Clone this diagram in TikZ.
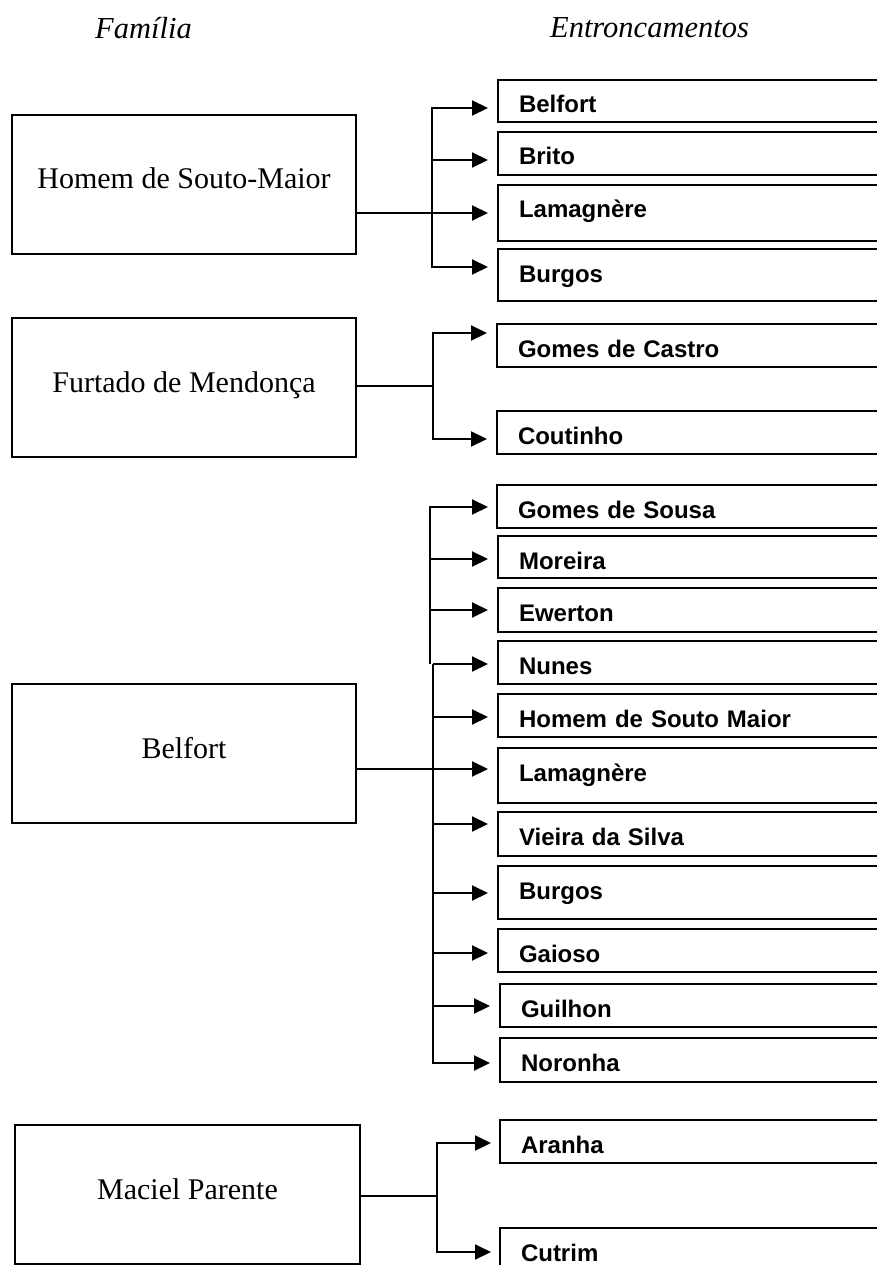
\documentclass[tikz,border=0pt]{standalone}
\usepackage{fontspec}
\setmainfont{Liberation Serif}
\setsansfont{Liberation Sans}
\usepackage{tikz}
\usetikzlibrary{arrows.meta}
\usetikzlibrary{positioning}

\begin{document}
\begin{tikzpicture}[
    x=1pt,
    y=-1pt,
    family/.style={%
      draw,
      rectangle,
      line width=2.3pt,
      outer sep=0pt,
      anchor=north west,
      minimum width=344pt,
      inner ysep=0pt,
      text height=74pt,
      text depth=65pt,
      font=\fontsize{30}{36}\selectfont,
    },
    branch/.style={%
      draw,
      rectangle,
      line width=2.3pt,
      outer sep=0pt,
      anchor=north west,
      inner xsep=21pt,
      inner ysep=0pt,
      text width=380pt,
      align=left,
      text height=33pt,
      text depth=#1,
      font=\sffamily\bfseries\fontsize{24}{29}\selectfont,
    },
    branch/.default=10pt,
    heading/.style={font=\itshape\fontsize{30.5}{36}\selectfont},
    link/.style={line width=2pt},
    feed/.style={line width=2pt,-{Triangle[length=16pt,width=15pt]}},
  ]

    \useasboundingbox (0,0) rectangle (877,1265);
    \clip (0,0) rectangle (877,1265);

    \node [heading] (fam) at (143.5,28) {Família};
    \node [heading] (ent) at (649.5,28) {Entroncamentos};

    \node [family] (hsm) at (12,115) {Homem de Souto-Maior};
    \node [family] (fm) at (12,318) {Furtado de Mendonça};
    \node [family] (bel) at (12,684) {Belfort};
    \node [family,minimum width=345pt] (mp) at (15,1125) {Maciel Parente};

    \node [branch=9pt] (e1) at (498,80) {Belfort};
    \node [branch] (e2) at (498,132) {Brito};
    \node [branch=23pt] (e3) at (498,185) {Lamagnère};
    \node [branch=19pt] (e4) at (498,249) {Burgos};

    \node [branch] (f1) at (497,324) {Gomes de Castro};
    \node [branch] (f2) at (497,411) {Coutinho};

    \node [branch] (b1) at (497,485) {Gomes de Sousa};
    \node [branch=9pt] (b2) at (498,536) {Moreira};
    \node [branch=11pt] (b3) at (498,588) {Ewerton};
    \node [branch] (b4) at (498,641) {Nunes};
    \node [branch] (b5) at (498,694) {Homem de Souto Maior};
    \node [branch=22pt] (b6) at (498,748) {Lamagnère};
    \node [branch=11pt] (b7) at (498,812) {Vieira da Silva};
    \node [branch=20pt] (b8) at (498,866) {Burgos};
    \node [branch] (b9) at (498,929) {Gaioso};
    \node [branch] (b10) at (500,984) {Guilhon};
    \node [branch=11pt] (b11) at (500,1038) {Noronha};

    \node [branch] (m1) at (500,1120) {Aranha};
    \node [branch] (m2) at (500,1228) {Cutrim};

    \coordinate (j1) at (432,213);
    \coordinate (t1) at (488,108);
    \coordinate (t2) at (488,160);
    \coordinate (t3) at (488,213);
    \coordinate (t4) at (488,267);
    \draw [feed] (j1 |- t2) -- (j1 |- t1) -- (t1);
    \draw [feed] (j1 |- t2) -- (t2);
    \draw [feed] (hsm.east |- t3) -- (t3);
    \draw [feed] (j1 |- t2) -- (j1 |- t4) -- (t4);

    \coordinate (j2) at (433,386);
    \coordinate (t5) at (487,333);
    \coordinate (t6) at (487,439);
    \draw [link] (fm.east |- j2) -- (j2);
    \draw [feed] (j2) -- (j2 |- t5) -- (t5);
    \draw [feed] (j2) -- (j2 |- t6) -- (t6);

    \coordinate (k3) at (430,664);
    \coordinate (j3) at (433,769);
    \coordinate (u1) at (488,507);
    \coordinate (u2) at (488,559);
    \coordinate (u3) at (488,610);
    \coordinate (u4) at (488,664);
    \coordinate (u5) at (488,717);
    \coordinate (u6) at (488,769);
    \coordinate (u7) at (488,824);
    \coordinate (u8) at (488,893);
    \coordinate (u9) at (488,953);
    \coordinate (u10) at (490,1006);
    \coordinate (u11) at (490,1063);
    \draw [feed] (k3) -- (k3 |- u1) -- (u1);
    \draw [feed] (k3 |- u2) -- (u2);
    \draw [feed] (k3 |- u3) -- (u3);
    \draw [feed] (j3 |- u4) -- (u4);
    \draw [feed] (j3 |- u4) -- (j3 |- u11) -- (u11);
    \draw [feed] (j3 |- u5) -- (u5);
    \draw [feed] (bel.east |- u6) -- (u6);
    \draw [feed] (j3 |- u7) -- (u7);
    \draw [feed] (j3 |- u8) -- (u8);
    \draw [feed] (j3 |- u9) -- (u9);
    \draw [feed] (j3 |- u10) -- (u10);

    \coordinate (j4) at (437,1196);
    \coordinate (v1) at (491,1143);
    \coordinate (v2) at (491,1252);
    \draw [link] (mp.east |- j4) -- (j4);
    \draw [feed] (j4) -- (j4 |- v1) -- (v1);
    \draw [feed] (j4) -- (j4 |- v2) -- (v2);
\end{tikzpicture}
\end{document}
